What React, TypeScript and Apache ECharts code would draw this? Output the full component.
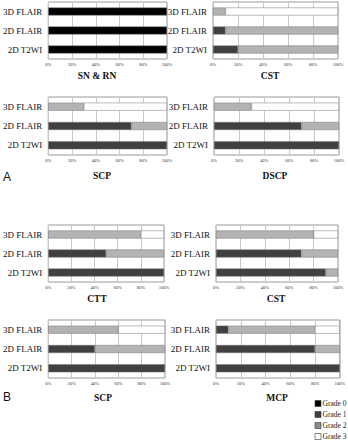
import React, { useEffect, useRef } from "react";
import * as echarts from "echarts";

// Categories from bottom to top of each panel
const categories = ["2D T2WI", "2D FLAIR", "3D FLAIR"];
const grades = ["Grade 0", "Grade 1", "Grade 2", "Grade 3"];
const panelTitles = ["SN & RN", "CST", "SCP", "DSCP", "CTT", "CST", "SCP", "MCP"];
const tickValues = [0, 20, 40, 60, 80, 100];

// Percent per panel, ordered as categories [2D T2WI, 2D FLAIR, 3D FLAIR]
const grade0 = [
  [100, 100, 100], [0, 0, 0], [0, 0, 0], [0, 0, 0],
  [0, 0, 0], [0, 0, 0], [0, 0, 0], [0, 0, 0],
];
const grade1 = [
  [0, 0, 0], [20, 10, 0], [100, 70, 0], [100, 70, 0],
  [100, 50, 0], [90, 70, 0], [100, 40, 0], [100, 80, 10],
];
const grade2 = [
  [0, 0, 0], [80, 90, 10], [0, 30, 30], [0, 30, 30],
  [0, 50, 80], [10, 30, 80], [0, 60, 60], [0, 20, 70],
];
const grade3 = [
  [0, 0, 0], [0, 0, 90], [0, 0, 70], [0, 0, 70],
  [0, 0, 20], [0, 0, 20], [0, 0, 40], [0, 0, 20],
];
const gradeData = [grade0, grade1, grade2, grade3];

const gradeColors = ["#000000", "#404040", "#b3b3b3", "#ffffff"];
const legendColors = ["#000000", "#404040", "#8c8c8c", "#ffffff"];

const gridBoxes = [
  { left: 43, top: 2, width: 124, height: 57 },
  { left: 213, top: 2, width: 125, height: 57 },
  { left: 43, top: 97, width: 124, height: 58 },
  { left: 214, top: 97, width: 125, height: 58 },
  { left: 42, top: 225, width: 122, height: 57 },
  { left: 216, top: 225, width: 122, height: 57 },
  { left: 42, top: 320, width: 123, height: 58 },
  { left: 216, top: 320, width: 124, height: 58 },
];
const titlePos = [
  [97, 76], [270, 76], [102, 176], [275, 176],
  [97, 299], [276, 299], [103, 398], [277, 398],
];

const SERIF = "Liberation Serif";

export default function App() {
  const ref = useRef<HTMLDivElement>(null);
  useEffect(() => {
    if (!ref.current) return;
    const chart = echarts.init(ref.current, null, { renderer: "svg" });

    const grid = gridBoxes.map((b) => ({
      ...b,
      show: true,
      borderColor: "#9a9a9a",
      borderWidth: 1,
      backgroundColor: "#ffffff",
      containLabel: false,
    }));

    const xAxis = gridBoxes.map((_, i) => ({
      type: "value",
      gridIndex: i,
      min: tickValues[0],
      max: tickValues[tickValues.length - 1],
      interval: tickValues[1] - tickValues[0],
      axisLine: { show: false },
      axisTick: { show: false },
      splitLine: { show: true, lineStyle: { color: "#c8c8c8", width: 1 } },
      axisLabel: {
        formatter: "{value}%",
        fontSize: 4.5,
        color: "#333",
        margin: 3,
        fontFamily: SERIF,
      },
    }));

    const yAxis = gridBoxes.map((_, i) => ({
      type: "category",
      gridIndex: i,
      data: categories,
      axisLine: { show: false },
      axisTick: { show: false },
      splitLine: { show: false },
      axisLabel: {
        fontSize: 9,
        color: "#111",
        margin: 6,
        fontFamily: SERIF,
      },
    }));

    const series: any[] = [];
    gridBoxes.forEach((_, p) => {
      grades.forEach((g, gi) => {
        series.push({
          type: "bar",
          name: g,
          xAxisIndex: p,
          yAxisIndex: p,
          stack: "panel" + p,
          barWidth: 8,
          data: gradeData[gi][p].map((v) => (v === 0 ? null : v)),
          itemStyle: {
            color: gradeColors[gi],
            borderColor: "#777",
            borderWidth: 0.5,
          },
        });
      });
    });

    const graphic: any[] = panelTitles.map((t, i) => ({
      type: "text",
      x: titlePos[i][0],
      y: titlePos[i][1],
      style: {
        text: t,
        fontSize: 9.5,
        fontWeight: "bold",
        fontFamily: SERIF,
        fill: "#111",
        textAlign: "center",
        textVerticalAlign: "middle",
      },
    }));
    graphic.push(
      {
        type: "text",
        x: 3,
        y: 177,
        style: {
          text: "A",
          fontSize: 12,
          fontFamily: "Liberation Sans",
          fill: "#111",
          textVerticalAlign: "middle",
        },
      },
      {
        type: "text",
        x: 3,
        y: 397,
        style: {
          text: "B",
          fontSize: 12,
          fontFamily: "Liberation Sans",
          fill: "#111",
          textVerticalAlign: "middle",
        },
      }
    );
    // Legend (drawn manually for exact placement)
    grades.forEach((g, i) => {
      const cy = 403.5 + i * 11;
      graphic.push(
        {
          type: "rect",
          shape: { x: 315, y: cy - 3, width: 6, height: 6 },
          style: { fill: legendColors[i], stroke: "#333", lineWidth: 0.6 },
        },
        {
          type: "text",
          x: 322.5,
          y: cy,
          style: {
            text: g,
            fontSize: 7.5,
            fontFamily: SERIF,
            fill: "#222",
            textVerticalAlign: "middle",
          },
        }
      );
    });

    chart.setOption({
      animation: false,
      backgroundColor: "#ffffff",
      grid,
      xAxis,
      yAxis,
      series,
      graphic,
    });

    return () => chart.dispose();
  }, []);

  return (
    <div
      ref={ref}
      style={{ position: "absolute", left: 0, top: 0, width: 348, height: 440 }}
    />
  );
}
